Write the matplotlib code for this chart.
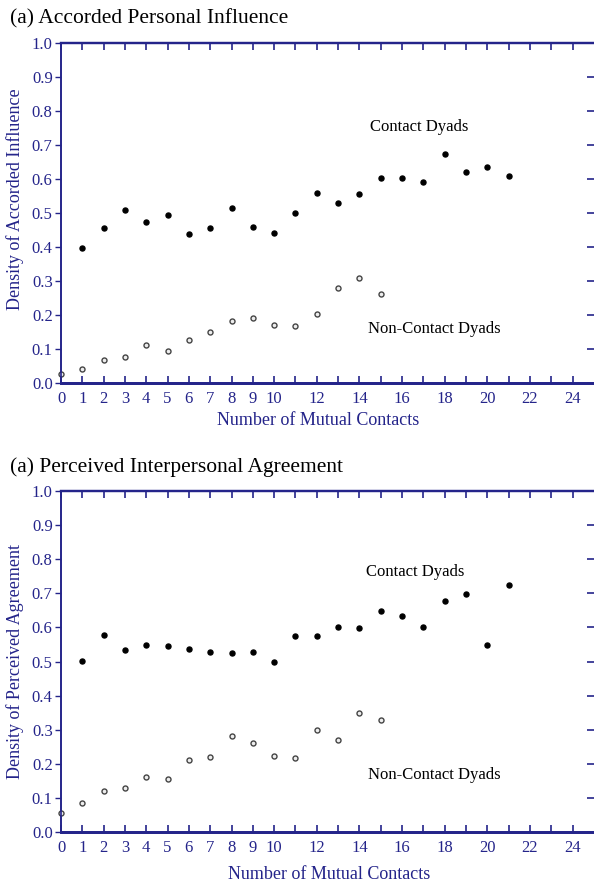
import numpy as np
import matplotlib
matplotlib.use('Agg')
import matplotlib.pyplot as plt

plt.rcParams['font.family'] = ['Liberation Serif', 'DejaVu Serif']

NAVY = '#24248a'

# x positions (number of mutual contacts)
x_contact = list(range(1, 22))
x_noncontact = list(range(0, 16))

# panel 1: accorded personal influence
infl_contact = [0.396, 0.457, 0.509, 0.474, 0.494, 0.439, 0.457, 0.515, 0.460, 0.440,
                0.501, 0.559, 0.530, 0.556, 0.603, 0.603, 0.590, 0.673, 0.620, 0.635, 0.610]
infl_noncontact = [0.026, 0.040, 0.068, 0.077, 0.113, 0.093, 0.126, 0.150, 0.183, 0.192,
                   0.171, 0.169, 0.203, 0.279, 0.310, 0.263]

# panel 2: perceived interpersonal agreement
agr_contact = [0.502, 0.578, 0.533, 0.548, 0.546, 0.538, 0.528, 0.526, 0.527, 0.498,
               0.576, 0.574, 0.600, 0.598, 0.648, 0.632, 0.602, 0.676, 0.699, 0.547, 0.724]
agr_noncontact = [0.055, 0.086, 0.120, 0.130, 0.162, 0.156, 0.212, 0.221, 0.281, 0.260,
                  0.224, 0.218, 0.300, 0.271, 0.348, 0.327]

xtick_labels = [str(i) for i in range(0, 11)] + [str(i) for i in range(12, 25, 2)]
xtick_pos = list(range(0, 11)) + list(range(12, 25, 2))
ytick_pos = np.round(np.arange(0, 1.01, 0.1), 1)

panels = [
    dict(title='(a) Accorded Personal Influence', ylabel='Density of Accorded Influence',
         c=infl_contact, n=infl_noncontact, ctxt=(16.8, 0.753), ntxt=(17.5, 0.159),
         rect=[0.1027, 0.5658, 0.897, 0.3854], ty=0.979, xl=(0.482, -0.085), yl=(-0.086, 0.54)),
    dict(title='(a) Perceived Interpersonal Agreement', ylabel='Density of Perceived Agreement',
         c=agr_contact, n=agr_noncontact, ctxt=(16.6, 0.762), ntxt=(17.5, 0.166),
         rect=[0.1027, 0.0567, 0.897, 0.3866], ty=0.470, xl=(0.504, -0.10), yl=(-0.086, 0.50)),
]

fig = plt.figure(figsize=(5.94, 8.82), dpi=100)

for p in panels:
    ax = fig.add_axes(p['rect'])
    ax.scatter(x_contact, p['c'], s=13, color='black', zorder=3, clip_on=False)
    ax.scatter(x_noncontact, p['n'], s=13, facecolors='#eeeeee', edgecolors='#444444',
               linewidths=1.0, zorder=3, clip_on=False)
    ax.set_xlim(0, 25)
    ax.set_ylim(0, 1.0)
    ax.set_xticks(xtick_pos)
    ax.set_xticklabels(xtick_labels)
    ax.set_xticks(range(0, 25), minor=True)
    ax.set_yticks(ytick_pos)
    ax.set_yticklabels(['%.1f' % v for v in ytick_pos])
    ax.tick_params(axis='x', which='both', direction='in', length=5, width=1.2,
                   color=NAVY, labelcolor=NAVY, labelsize=12, top=True, pad=6)
    ax.tick_params(axis='y', direction='out', length=4, width=1.0, color=NAVY,
                   labelcolor=NAVY, labelsize=12, pad=2)
    # inward ticks on the right side
    ax2 = ax.twinx()
    ax2.set_ylim(0, 1.0)
    ax2.set_yticks(ytick_pos)
    ax2.set_yticklabels([])
    ax2.tick_params(axis='y', direction='in', length=5, width=1.2, color=NAVY)
    for a in (ax, ax2):
        a.spines['right'].set_visible(False)
        a.spines['left'].set_color(NAVY)
        a.spines['left'].set_linewidth(1.2)
        a.spines['bottom'].set_color(NAVY)
        a.spines['bottom'].set_linewidth(2.0)
        a.spines['top'].set_color(NAVY)
        a.spines['top'].set_linewidth(1.6)
    ax.set_xlabel('Number of Mutual Contacts', color=NAVY, fontsize=13)
    ax.xaxis.set_label_coords(*p['xl'])
    ax.set_ylabel(p['ylabel'], color=NAVY, fontsize=13, va='center', ha='center')
    ax.yaxis.set_label_coords(*p['yl'])
    ax.text(p['ctxt'][0], p['ctxt'][1], 'Contact Dyads', fontsize=12, ha='center', va='center')
    ax.text(p['ntxt'][0], p['ntxt'][1], 'Non-Contact Dyads', fontsize=12, ha='center', va='center')
    fig.text(0.017, p['ty'], p['title'], fontsize=15.5, ha='left', va='center')

fig.savefig('out.png', dpi=100)
